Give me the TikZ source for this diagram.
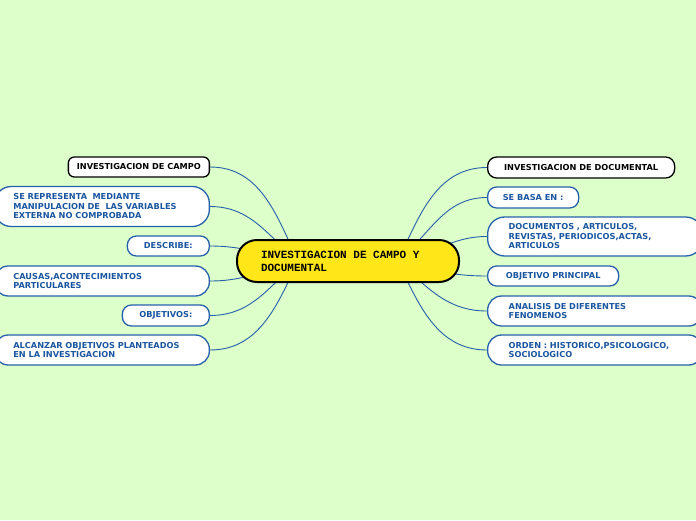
\documentclass[tikz,border=0pt]{standalone}
\usepackage{fontspec}
\newfontfamily\nodefont{DejaVu Sans}
\newfontfamily\monof{Liberation Mono}
\newcommand\msp{\hspace*{0.6em}}
\usetikzlibrary{backgrounds}
\definecolor{bgc}{RGB}{221,255,201}
\definecolor{linec}{RGB}{38,98,170}
\definecolor{txtc}{RGB}{26,86,160}
\definecolor{yel}{RGB}{255,230,25}
\tikzset{
  base/.style={font=\nodefont\bfseries\fontsize{8.2}{9.5}\selectfont, fill=white, line width=1.3pt, inner ysep=0pt},
  blk/.style={base, draw=black, text=black, rounded corners=6pt, align=center, inner xsep=0pt},
  bsmall/.style={base, draw=linec, text=txtc, rounded corners=9pt, align=center, inner xsep=0pt},
  bwide/.style={base, draw=linec, text=txtc, rounded corners=14pt, align=left, inner xsep=0pt},
  conn/.style={draw=linec, line width=0.9pt},
}
\begin{document}
\begin{tikzpicture}[x=1pt,y=-1pt]
\useasboundingbox (0,0) rectangle (696,520);
% center
\node[draw=black, fill=yel, line width=2pt, rounded corners=20pt, minimum width=222pt, minimum height=42pt,
      text width=174pt, align=left, inner xsep=0pt, font=\monof\bfseries\fontsize{11}{13}\selectfont]
      (c) at (348,261) {INVESTIGACION\msp DE\msp CAMPO\msp Y\\DOCUMENTAL};
% left
\node[blk, minimum width=141pt, minimum height=20pt, anchor=east] (l1) at (210,167) {INVESTIGACION DE CAMPO};
\node[bwide, minimum width=215pt, minimum height=40pt, text width=177pt, rounded corners=17pt, anchor=east] (l2) at (210,206.5)
  {SE REPRESENTA\ \ MEDIANTE\\MANIPULACION DE\ \ LAS VARIABLES\\EXTERNA NO COMPROBADA};
\node[bsmall, minimum width=82pt, minimum height=20pt, anchor=east] (l3) at (210,246) {DESCRIBE:};
\node[bwide, minimum width=215pt, minimum height=30pt, text width=177pt, anchor=east] (l4) at (210,281)
  {CAUSAS,ACONTECIMIENTOS\\PARTICULARES};
\node[bsmall, minimum width=87pt, minimum height=21pt, anchor=east] (l5) at (210,315.5) {OBJETIVOS:};
\node[bwide, minimum width=215pt, minimum height=30pt, text width=177pt, anchor=east] (l6) at (210,350)
  {ALCANZAR OBJETIVOS PLANTEADOS\\EN LA INVESTIGACION};
% right
\node[blk, minimum width=187pt, minimum height=21pt, rounded corners=9pt, anchor=west] (r1) at (487,167.5) {INVESTIGACION DE DOCUMENTAL};
\node[bsmall, minimum width=91pt, minimum height=21pt, anchor=west] (r2) at (487,197.5) {SE BASA EN :};
\node[bwide, minimum width=215pt, minimum height=39pt, text width=173pt, rounded corners=17pt, anchor=west] (r3) at (487,236.5)
  {DOCUMENTOS , ARTICULOS,\\REVISTAS, PERIODICOS,ACTAS,\\ARTICULOS};
\node[bsmall, minimum width=131pt, minimum height=20pt, anchor=west] (r4) at (487,276) {OBJETIVO PRINCIPAL};
\node[bwide, minimum width=215pt, minimum height=30pt, text width=173pt, anchor=west] (r5) at (487,311)
  {ANALISIS DE DIFERENTES\\FENOMENOS};
\node[bwide, minimum width=215pt, minimum height=30pt, text width=173pt, anchor=west] (r6) at (487,350)
  {ORDEN : HISTORICO,PSICOLOGICO,\\SOCIOLOGICO};
\begin{pgfonlayer}{background}
\fill[bgc] (0,0) rectangle (696,520);
\coordinate (cl) at ([xshift=-50pt]c.center);
\coordinate (cr) at ([xshift=50pt]c.center);
\draw[conn] (cl) to[out=115,in=0] (l1.east);
\draw[conn] (cl) to[out=140,in=0] (l2.east);
\draw[conn] (cl) to[out=170,in=0] (l3.east);
\draw[conn] (cl) to[out=195,in=0] (l4.east);
\draw[conn] (cl) to[out=222,in=0] (l5.east);
\draw[conn] (cl) to[out=245,in=0] (l6.east);
\draw[conn] (cr) to[out=65,in=180] (r1.west);
\draw[conn] (cr) to[out=40,in=180] (r2.west);
\draw[conn] (cr) to[out=10,in=180] (r3.west);
\draw[conn] (cr) to[out=-15,in=180] (r4.west);
\draw[conn] (cr) to[out=-42,in=180] (r5.west);
\draw[conn] (cr) to[out=-65,in=180] (r6.west);
\end{pgfonlayer}
\end{tikzpicture}
\end{document}
